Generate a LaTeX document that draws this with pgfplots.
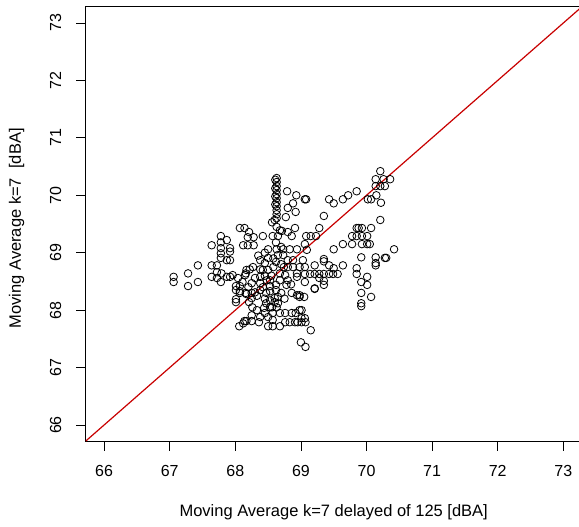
\documentclass[border=0pt]{standalone}
\usepackage{fontspec}
\setmainfont{Liberation Sans}
\usepackage{pgfplots}
\pgfplotsset{compat=1.18}
\definecolor{linered}{RGB}{200,0,0}
\begin{document}
\begin{tikzpicture}
\begin{axis}[name=ax, scale only axis, width=496pt, height=434.2pt,
  xmin=65.72, xmax=73.28, ymin=65.72, ymax=73.28,
  xtick={66,67,68,69,70,71,72,73}, ytick={66,67,68,69,70,71,72,73},
  tick align=outside, tick pos=left, major tick length=9.5pt,
  tick style={black, line width=0.8pt},
  axis line style={line width=0.8pt},
  /pgf/number format/assume math mode=true,
  ticklabel style={font=\fontsize{16}{19}\selectfont},
  xticklabel style={anchor=north, inner sep=0pt},
  xticklabel shift=14.6pt,
  yticklabel style={rotate=90, anchor=south, inner sep=0pt},
  yticklabel shift=14.8pt,
  label style={font=\fontsize{16.5}{19}\selectfont},
  xlabel={Moving Average k=7 delayed of 125 [dBA]},
  ylabel={Moving Average k=7\ \ [dBA]},
  xlabel style={at={(axis description cs:0.5,-0.1635)}, anchor=center},
  ylabel style={at={(axis description cs:-0.1391,0.49)}, anchor=center},
]
\addplot[only marks, mark=o, mark size=3.8pt, mark options={black, line width=0.8pt}] coordinates {
(67.06,68.58) (67.06,68.49) (67.28,68.64) (67.28,68.42) (67.43,68.78) (67.43,68.49)
(67.64,69.13) (67.64,68.78) (67.64,68.58) (67.72,68.78) (67.72,68.66) (67.72,68.56)
(67.78,69.29) (67.78,69.18) (67.78,69.08) (67.78,68.99) (67.78,68.91) (67.78,68.49)
(67.87,69.22) (67.87,68.87) (67.87,68.58) (67.92,69.08) (67.92,69.02) (67.92,68.87)
(67.92,68.58) (68.01,68.42) (68.01,68.35) (68.01,68.19) (68.01,68.14) (68.07,68.42)
(68.07,68.33) (68.07,68.30) (67.79,68.64) (67.96,68.61) (68.04,68.56) (68.11,68.49)
(68.17,68.70) (68.15,68.61)
(68.06,67.72) (68.12,67.77) (68.14,67.81) (68.17,67.81) (68.16,68.30) (68.17,68.28)
(68.21,68.14) (68.25,68.30) (68.25,68.21) (68.25,67.91) (68.25,67.81) (68.26,68.05)
(68.30,68.31) (68.33,68.00) (68.38,68.35) (68.38,68.47) (68.38,67.88) (68.36,67.79)
(68.42,68.40) (68.44,68.04) (68.45,67.95) (68.47,68.30) (68.47,68.12) (68.50,67.88)
(68.50,67.72) (68.53,68.52) (68.53,68.42) (68.53,68.33) (68.53,68.17) (68.53,68.05)
(68.56,68.05) (68.57,67.95) (68.57,67.83) (68.57,67.72) (68.60,68.21) (68.60,68.14)
(68.63,68.05) (68.65,68.23) (68.65,68.12) (68.68,67.95) (68.68,67.72) (68.76,67.95)
(68.76,67.79) (68.83,67.79) (68.86,67.95) (68.91,67.79) (68.92,67.95) (68.95,67.79)
(69.01,67.86) (69.01,67.79) (69.01,68.00) (69.07,67.79) (69.15,67.65) (69.00,67.44)
(69.07,67.36) (69.06,67.86) (68.98,68.00)
(68.16,68.64) (68.22,68.71) (68.27,68.75) (68.25,68.47) (68.30,68.56) (68.38,68.58)
(68.38,68.71) (68.45,68.82) (68.38,68.87) (68.50,68.91) (68.58,68.75) (68.68,68.64)
(68.76,68.61) (68.80,68.52) (68.78,68.44) (68.74,68.75) (68.80,68.75) (68.88,68.75)
(68.94,68.64) (68.94,68.58) (68.98,68.75) (69.06,68.75) (68.86,68.30) (68.94,68.26)
(68.98,68.23) (69.05,68.23) (69.06,68.49) (69.21,68.78) (69.21,68.38)
(69.06,68.63) (69.14,68.63) (69.21,68.63) (69.28,68.63) (69.35,68.63) (69.43,68.63) (69.49,68.63)
(69.28,68.56) (69.35,68.51) (69.35,68.44) (69.21,68.37) (68.98,68.26) (69.35,68.85)
(69.43,68.78) (69.50,68.73) (69.56,68.63) (69.64,68.78) (69.35,68.89) (69.50,69.06) (69.64,69.15)
(69.85,69.43) (69.88,69.43) (69.93,69.43) (70.07,69.43) (69.78,69.29) (69.85,69.29)
(69.93,69.29) (70.01,69.29) (69.78,69.15) (69.93,69.15) (70.01,69.15) (70.05,69.15)
(69.92,68.92) (70.14,68.92) (70.28,68.91) (70.30,68.91) (70.42,69.06) (70.14,68.82)
(70.14,68.78) (69.85,68.73) (69.85,68.63) (70.01,68.58) (70.01,68.44) (69.92,68.49)
(69.92,68.30) (70.07,68.23) (69.92,68.12) (69.92,68.07) (70.21,69.57) (70.22,69.87)
(70.21,70.42) (70.14,70.28) (70.26,70.28) (70.36,70.28) (70.14,70.16) (70.21,70.16)
(70.28,70.16) (70.15,70.00) (70.02,69.93) (70.07,69.93) (69.85,70.07) (69.72,70.00)
(69.64,69.93) (69.50,69.86) (69.43,69.93) (69.06,69.93) (69.35,69.64) (69.28,69.43)
(69.15,69.29) (69.06,69.15)
(68.63,70.30) (68.63,70.23) (68.63,70.16) (68.63,70.09) (68.63,70.02) (68.63,69.95)
(68.63,69.88) (68.63,69.81) (68.63,69.74) (68.63,69.67) (68.63,69.60)
(68.61,70.27) (68.61,70.12) (68.61,69.98) (68.61,69.84)
(68.79,70.07) (68.93,70.00) (69.08,69.93) (68.88,69.86) (68.80,69.78) (68.92,69.71)
(68.77,69.62) (68.56,69.53) (68.60,69.57) (68.63,69.45) (68.68,69.39) (68.07,69.43)
(68.14,69.43) (68.21,69.36) (68.71,69.38) (68.80,69.36) (68.91,69.43) (68.19,69.27)
(68.28,69.27) (68.42,69.29) (68.57,69.29) (68.65,69.29) (68.86,69.29) (69.08,69.29)
(69.23,69.29) (68.12,69.13) (68.19,69.13) (68.28,69.13) (68.50,69.06) (68.63,69.06)
(68.73,69.06) (68.83,69.06) (68.94,69.06) (68.65,68.96) (68.73,68.96) (68.80,68.87)
(68.88,68.87) (69.03,68.87) (69.09,69.05) (68.62,69.18) (68.62,68.84) (68.62,68.44)
(68.62,68.35) (68.68,68.52) (68.45,69.00) (68.50,68.70) (68.55,68.60) (68.70,68.80)
(68.58,68.90) (68.70,69.10) (68.45,68.60)
(68.35,68.95) (68.42,68.70) (68.48,68.52) (68.70,68.30) (68.75,68.20) (68.85,68.45)
(68.20,68.40) (68.33,68.25) (68.45,68.20)
};
\addplot[linered, line width=1.2pt] coordinates {(65.72,65.72) (73.28,73.28)};
\end{axis}
\pgfresetboundingbox
\path[use as bounding box] ([xshift=-85.7pt,yshift=-84.9pt]ax.south west) rectangle ([xshift=-2.7pt,yshift=6.9pt]ax.north east);
\end{tikzpicture}
\end{document}
